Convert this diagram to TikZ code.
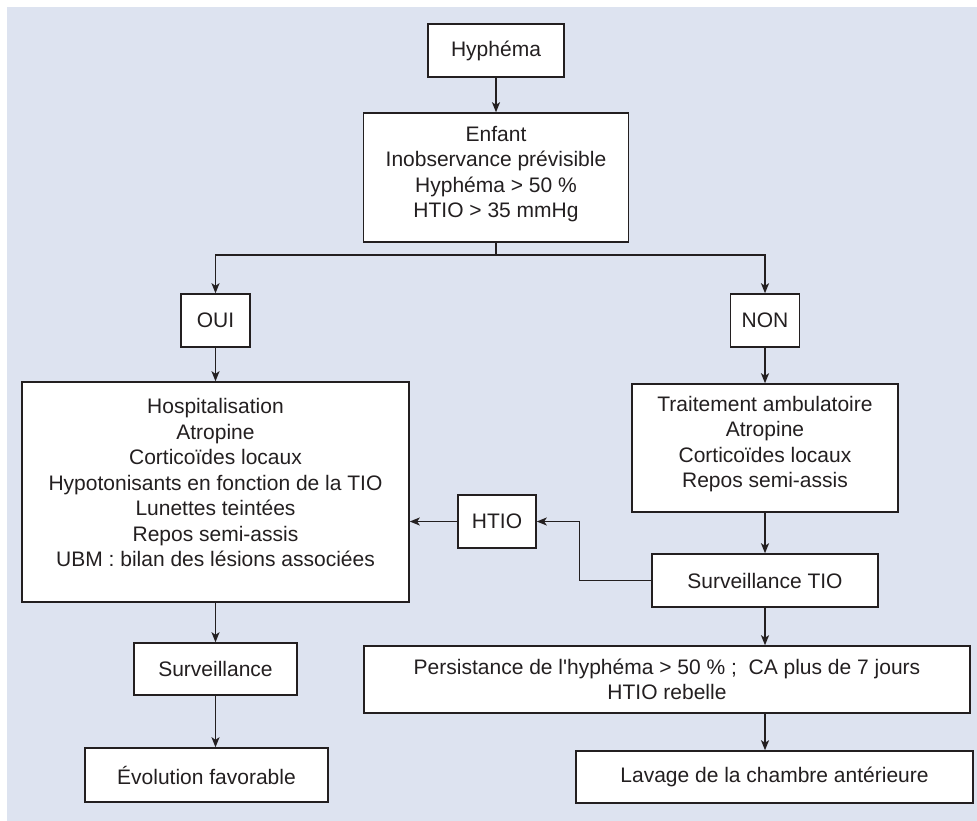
\documentclass[tikz,border=0pt]{standalone}
\usepackage{fontspec}
\setmainfont[Ligatures=TeXOff]{Liberation Sans}
\usetikzlibrary{arrows.meta,calc}
\definecolor{bgblue}{RGB}{221,227,240}
\definecolor{ink}{RGB}{35,31,32}
\begin{document}
\begin{tikzpicture}[x=1pt,y=-1pt,
  box/.style={draw=ink,fill=white,line width=1.5pt,inner sep=0pt,align=center,
    font=\fontsize{21}{25.5}\selectfont,text=ink},
  txt/.style={inner sep=0pt,align=center,font=\fontsize{21}{25.5}\selectfont,text=ink},
  arr/.style={draw=ink,line width=1.5pt,-{Stealth[length=10pt,width=8pt,inset=2.5pt]}}]
\useasboundingbox (0,0) rectangle (977,821);
\fill[bgblue] (7,7) rectangle (977,821);
% boxes
\node[box,minimum width=136,minimum height=53] (hyph) at (496,50.5) {Hyphéma};
\node[box,minimum width=265,minimum height=129] (enf) at (496,177.5) {};
\node[txt] (enft) at (496,174) {Enfant\\Inobservance prévisible\\Hyphéma > 50 \%\\HTIO > 35 mmHg};
\node[box,minimum width=69,minimum height=53] (oui) at (215.5,320.5) {OUI};
\node[box,minimum width=69,minimum height=53] (non) at (765,320.5) {NON};
\node[box,minimum width=387,minimum height=220] (hosp) at (215.5,492) {};
\node[txt] (hospt) at (215.5,482.5) {Hospitalisation\\Atropine\\Corticoïdes locaux\\Hypotonisants en fonction de la TIO\\Lunettes teintées\\Repos semi-assis\\UBM : bilan des lésions associées};
\node[box,minimum width=266,minimum height=128] (trait) at (765,448) {};
\node[txt] (traitt) at (765,444) {Traitement ambulatoire\\Atropine\\Corticoïdes locaux\\Repos semi-assis};
\node[box,minimum width=226,minimum height=53] (surtio) at (765,580.5) {Surveillance TIO};
\node[box,minimum width=78,minimum height=53] (htio) at (497,521.5) {HTIO};
\node[box,minimum width=163,minimum height=52] (surv) at (215.5,669) {Surveillance};
\node[box,minimum width=243,minimum height=54] (evol) at (206.5,775) {Évolution favorable};
\node[box,minimum width=606,minimum height=67] (pers) at (667,679.5) {Persistance de l'hyphéma > 50 \% ;\ \ CA plus de 7 jours\\HTIO rebelle};
\node[box,minimum width=397,minimum height=52] (lav) at (774.5,777) {Lavage de la chambre antérieure};
% connectors
\draw[arr] (hyph) -- (enf);
\coordinate (split) at ($(enf.south)+(0,12)$);
\draw[draw=ink,line width=1.5pt] (enf.south) -- (split);
\draw[arr] (split) -| (oui.north);
\draw[arr] (split) -| (non.north);
\draw[arr] (oui) -- (hosp);
\draw[arr] (non) -- (trait);
\draw[arr] (trait) -- (surtio);
\draw[arr] (surtio.west) -- ++(-72,0) |- (htio.east);
\draw[arr] (htio.west) -- (htio.west -| hosp.east);
\draw[arr] (hosp) -- (surv);
\draw[arr] (surv.south) -- (surv.south |- evol.north);
\draw[arr] (surtio.south) -- (surtio.south |- pers.north);
\draw[arr] (surtio.south |- pers.south) -- (surtio.south |- lav.north);
\end{tikzpicture}
\end{document}
